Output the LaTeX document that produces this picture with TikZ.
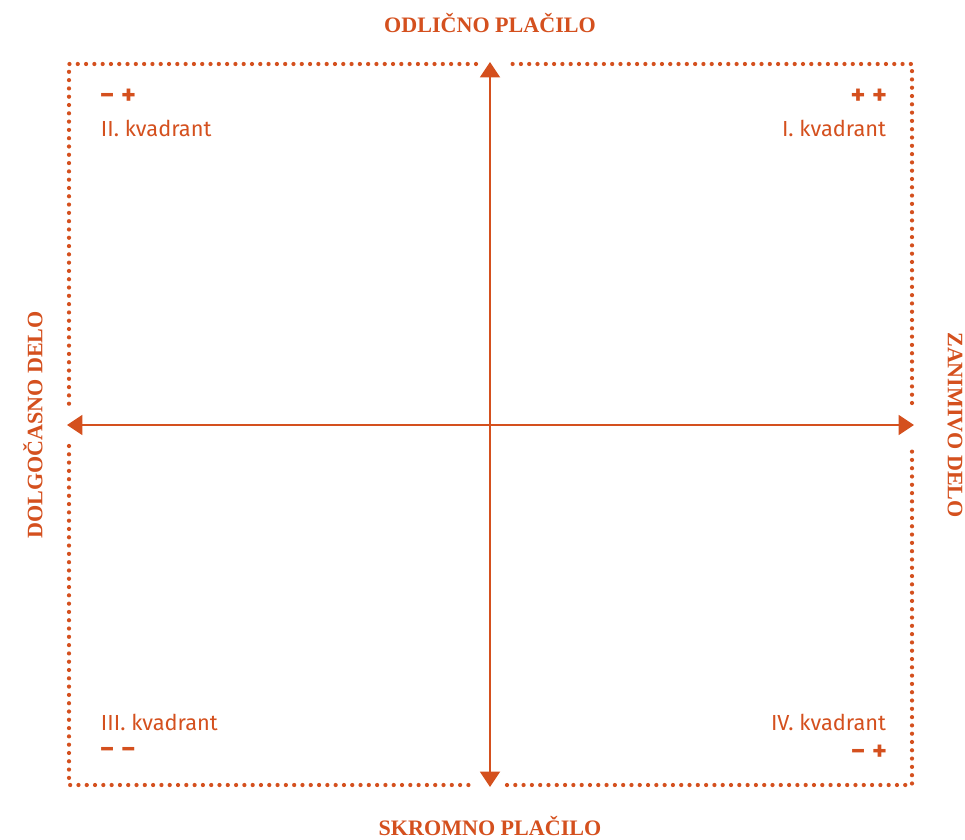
\documentclass[tikz,border=0pt]{standalone}
\usepackage{fontspec}
\setmainfont{Liberation Serif}
\setsansfont{Fira Sans}
\usetikzlibrary{arrows.meta}

\definecolor{rdeca}{RGB}{212,80,30}

\tikzset{
  okvir/.style={rdeca, line width=3pt, line cap=round, dash pattern=on 0pt off 5.9pt},
  os/.style={rdeca, line width=2.1pt, {Triangle[width=14pt,length=11pt]}-{Triangle[width=14pt,length=11pt]}},
  naslov/.style={rdeca, font=\fontsize{15.7}{18}\selectfont\bfseries},
  kvadrant/.style={rdeca, font=\sffamily\fontsize{15.5}{18}\selectfont},
  znak/.style={rdeca, font=\sffamily\fontsize{20}{22}\selectfont\bfseries}
}

\begin{document}
\begin{tikzpicture}[x=0.025cm, y=-0.025cm]
  \useasboundingbox (0,0) rectangle (965,840);

  % dotted frame, open where the axes pass
  \draw[okvir] (476,64) -- (69,64) -- (69,404);
  \draw[okvir] (69,446) -- (69,785) -- (475,785);
  \draw[okvir] (507,785) -- (912,785) -- (912,446);
  \draw[okvir] (912,403) -- (912,64) -- (505,64);

  % axes
  \coordinate (gor) at (490,62);
  \coordinate (dol) at (490,787);
  \coordinate (levo) at (67,425);
  \coordinate (desno) at (914,425);
  \draw[os] (dol) -- (gor);
  \draw[os] (levo) -- (desno);

  % axis labels
  \node[naslov] (placiloGor) at (490,23) {ODLIČNO PLAČILO};
  \node[naslov] (placiloDol) at (490,826) {SKROMNO PLAČILO};
  \node[naslov, rotate=90] (deloLevo) at (33,425) {DOLGOČASNO DELO};
  \node[naslov, rotate=-90] (deloDesno) at (955,425) {ZANIMIVO DELO};

  % quadrants
  \node[znak, anchor=west] (z2) at (95,97) {− +};
  \node[kvadrant, anchor=west] (k2) at (96,128) {II. kvadrant};
  \node[znak, anchor=east] (z1) at (892,97) {+ +};
  \node[kvadrant, anchor=east] (k1) at (891,128) {I. kvadrant};
  \node[kvadrant, anchor=west] (k3) at (96,722) {III. kvadrant};
  \node[znak, anchor=west] (z3) at (95,753) {− −};
  \node[kvadrant, anchor=east] (k4) at (891,722) {IV. kvadrant};
  \node[znak, anchor=east] (z4) at (892,753) {− +};
\end{tikzpicture}
\end{document}
